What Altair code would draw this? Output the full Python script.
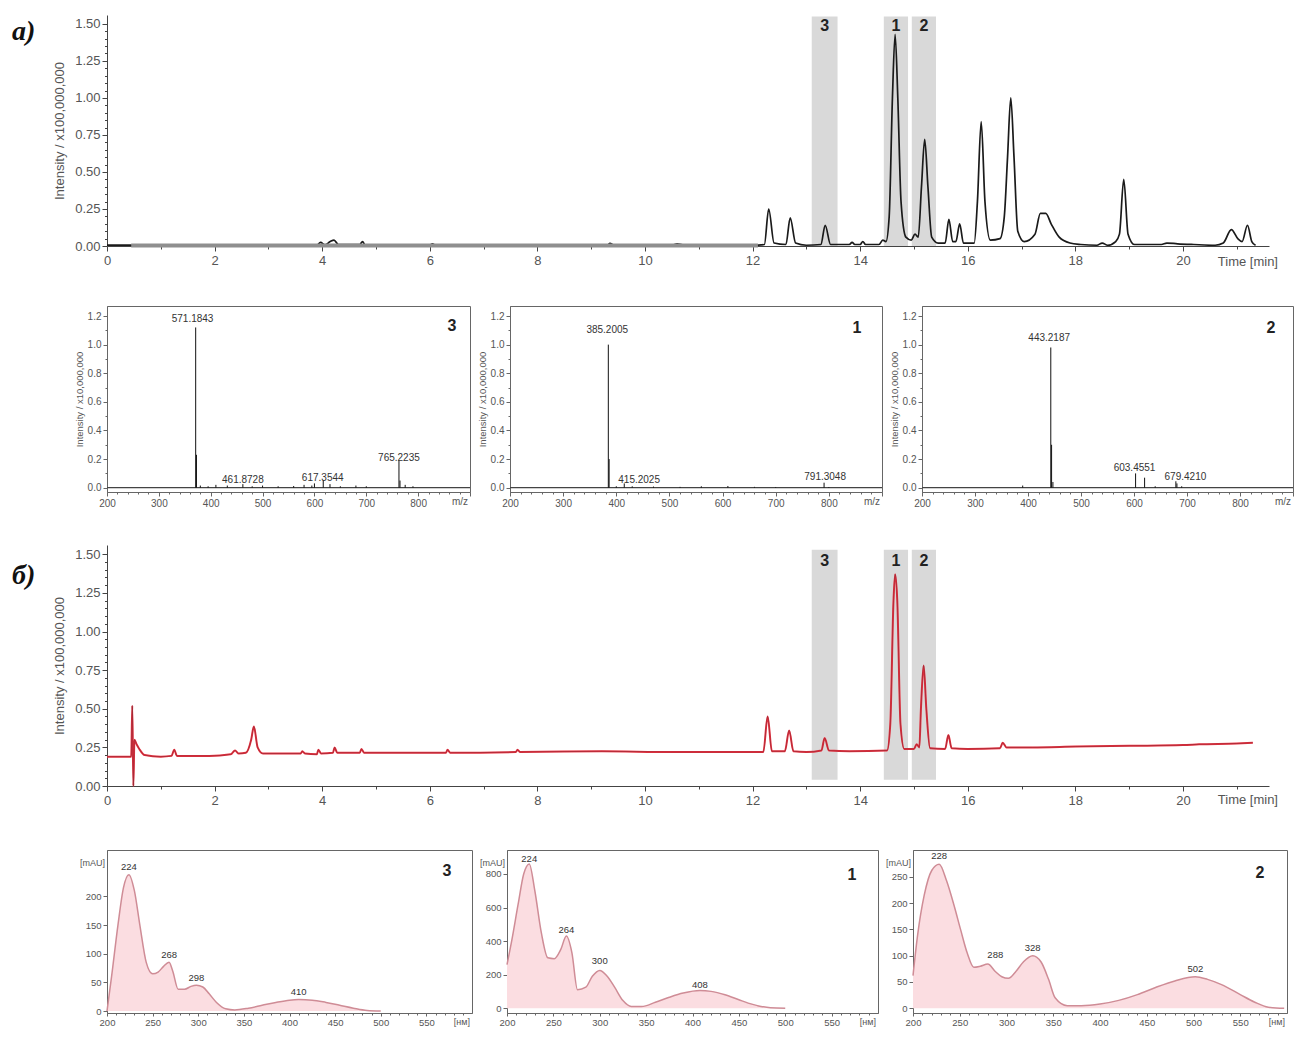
import altair as alt
import pandas as pd

FONT = "Liberation Sans"
SERIF = "Liberation Serif"
GRAY = "#555555"
AXIS = "#444444"

# ---------------- a) total ion chromatogram (black) ----------------
a_time = [0.00, 0.45, 0.50, 2.60, 3.90, 3.97, 4.05, 4.15, 4.22, 4.30,
          4.70, 4.75, 4.80, 6.00, 6.05, 6.10, 8.00, 9.30, 9.35, 9.42,
          10.50, 10.60, 10.70, 12.00, 12.22, 12.30, 12.40, 12.62, 12.70, 12.80,
          13.00, 13.27, 13.35, 13.45, 13.80, 13.85, 13.90, 14.00, 14.05, 14.10,
          14.35, 14.42, 14.48, 14.54, 14.60, 14.65, 14.70, 14.76, 14.85, 14.95,
          15.02, 15.08, 15.14, 15.20, 15.26, 15.33, 15.45, 15.58, 15.65, 15.72,
          15.78, 15.85, 15.92, 16.12, 16.18, 16.25, 16.32, 16.42, 16.60, 16.68,
          16.74, 16.80, 16.86, 16.93, 17.05, 17.25, 17.35, 17.45, 17.55, 17.70,
          17.90, 18.10, 18.40, 18.50, 18.60, 18.75, 18.82, 18.90, 18.98, 19.10,
          19.60, 19.70, 19.90, 20.20, 20.60, 20.75, 20.90, 21.02, 21.10, 21.20,
          21.28, 21.35]
a_int = [0.006, 0.006, 0.000, 0.002, 0.005, 0.025, 0.008, 0.030, 0.040, 0.010,
         0.010, 0.030, 0.005, 0.005, 0.015, 0.005, 0.004, 0.005, 0.018, 0.005,
         0.005, 0.015, 0.008, 0.005, 0.010, 0.250, 0.020, 0.010, 0.190, 0.020,
         0.005, 0.010, 0.140, 0.010, 0.010, 0.025, 0.010, 0.010, 0.030, 0.010,
         0.010, 0.040, 0.030, 0.200, 1.000, 1.430, 1.000, 0.300, 0.060, 0.040,
         0.080, 0.060, 0.400, 0.720, 0.400, 0.060, 0.020, 0.020, 0.180, 0.030,
         0.030, 0.150, 0.020, 0.020, 0.300, 0.840, 0.300, 0.040, 0.050, 0.200,
         0.600, 1.000, 0.600, 0.100, 0.030, 0.080, 0.220, 0.220, 0.150, 0.060,
         0.020, 0.010, 0.005, 0.020, 0.005, 0.030, 0.080, 0.450, 0.080, 0.010,
         0.010, 0.020, 0.015, 0.010, 0.005, 0.020, 0.110, 0.050, 0.030, 0.140,
         0.030, 0.005]
a_base_start = [0.45]
a_base_end = [12.10]
a_base_level = [0.003]

# ---------------- б) chromatogram (red) ----------------
b_time = [0.00, 0.45, 0.47, 0.49, 0.51, 0.55, 0.60, 0.70, 1.00, 1.20,
          1.25, 1.30, 1.90, 2.30, 2.38, 2.45, 2.58, 2.68, 2.73, 2.80,
          2.90, 3.60, 3.63, 3.68, 3.90, 3.93, 3.98, 4.20, 4.23, 4.28,
          4.70, 4.73, 4.78, 6.30, 6.33, 6.38, 7.60, 7.63, 7.68, 9.20,
          10.50, 12.20, 12.28, 12.36, 12.60, 12.68, 12.76, 13.00, 13.28, 13.34,
          13.42, 13.80, 14.50, 14.56, 14.62, 14.65, 14.69, 14.75, 14.82, 15.00,
          15.05, 15.10, 15.13, 15.18, 15.23, 15.30, 15.58, 15.64, 15.70, 16.00,
          16.60, 16.65, 16.72, 17.20, 18.00, 19.00, 20.00, 20.30, 21.00, 21.30]
b_int = [0.190, 0.190, 0.520, 0.000, 0.300, 0.270, 0.240, 0.200, 0.190, 0.195,
         0.235, 0.195, 0.195, 0.205, 0.230, 0.210, 0.215, 0.300, 0.385, 0.250,
         0.210, 0.210, 0.225, 0.210, 0.205, 0.235, 0.210, 0.215, 0.250, 0.215,
         0.215, 0.240, 0.215, 0.215, 0.235, 0.215, 0.220, 0.235, 0.220, 0.225,
         0.220, 0.220, 0.450, 0.225, 0.225, 0.360, 0.225, 0.220, 0.230, 0.310,
         0.230, 0.225, 0.230, 0.400, 1.200, 1.370, 1.200, 0.400, 0.240, 0.240,
         0.270, 0.250, 0.500, 0.780, 0.500, 0.245, 0.240, 0.330, 0.245, 0.240,
         0.245, 0.280, 0.250, 0.250, 0.255, 0.260, 0.265, 0.270, 0.275, 0.280]

# shaded retention windows
band_label = ["3", "1", "2"]
band_start = [13.10, 14.44, 14.96]
band_end = [13.58, 14.89, 15.41]

# ---------------- mass spectra ----------------
ms3_mz = [371, 372.5, 380, 395, 410, 432, 462, 480, 500, 530,
          560, 580, 595, 600, 617, 630, 650, 680, 700, 763,
          765, 775, 790]
ms3_int = [1.12, 0.23, 0.015, 0.01, 0.02, 0.015, 0.025, 0.01, 0.015, 0.01,
           0.012, 0.02, 0.015, 0.03, 0.05, 0.025, 0.01, 0.015, 0.01, 0.19,
           0.05, 0.02, 0.01]
ms3_lab = ["571.1843", "461.8728", "617.3544", "765.2235"]
ms3_lab_x = [365, 462, 616, 763]
ms3_lab_y = [1.18, 0.056, 0.07, 0.21]

ms1_mz = [385, 386.5, 400, 415, 430, 470, 520, 560, 610, 660, 700, 791, 800]
ms1_int = [1.0, 0.2, 0.01, 0.03, 0.01, 0.008, 0.006, 0.01, 0.012, 0.006, 0.005, 0.035, 0.005]
ms1_lab = ["385.2005", "415.2025", "791.3048"]
ms1_lab_x = [383, 443, 793]
ms1_lab_y = [1.10, 0.055, 0.076]

ms2_mz = [390, 443, 444.5, 447, 603, 620, 640, 679, 681, 690]
ms2_int = [0.015, 0.98, 0.3, 0.04, 0.1, 0.07, 0.01, 0.045, 0.03, 0.01]
ms2_lab = ["443.2187", "603.4551", "679.4210"]
ms2_lab_x = [440, 601, 697]
ms2_lab_y = [1.045, 0.14, 0.077]

ms_base = [200, 900]

# ---------------- UV spectra ----------------
uv3_nm = [200, 205, 212, 218, 224, 230, 236, 243, 250, 256,
          262, 268, 272, 278, 285, 292, 298, 305, 312, 320,
          330, 340, 355, 370, 385, 400, 410, 425, 440, 455,
          470, 485, 500]
uv3_abs = [0, 60, 150, 215, 238, 210, 150, 85, 65, 68,
           78, 85, 70, 38, 38, 43, 45, 42, 30, 15,
           4, 2, 5, 10, 15, 19, 20, 19, 15, 10,
           5, 1, 0]
uv3_lab = ["224", "268", "298", "410"]
uv3_lab_x = [224, 268, 298, 410]
uv3_lab_y = [252, 98, 58, 34]

uv1_nm = [200, 205, 212, 218, 224, 230, 237, 244, 251, 258,
          264, 270, 276, 285, 292, 300, 308, 316, 325, 334,
          345, 360, 375, 390, 408, 420, 435, 450, 460, 470,
          484, 500]
uv1_abs = [260, 400, 620, 800, 860, 700, 450, 300, 295, 350,
           430, 330, 110, 125, 190, 225, 190, 125, 45, 10,
           10, 35, 65, 90, 105, 100, 80, 50, 30, 15,
           2, 0]
uv1_lab = ["224", "264", "300", "408"]
uv1_lab_x = [224, 264, 300, 408]
uv1_lab_y = [890, 465, 282, 138]

uv2_nm = [200, 205, 212, 220, 228, 236, 244, 251, 258, 265,
          272, 280, 288, 295, 302, 310, 318, 328, 337, 345,
          352, 365, 380, 400, 420, 440, 460, 480, 502, 515,
          530, 550, 565, 580, 597]
uv2_abs = [62, 140, 215, 262, 274, 242, 195, 149, 105, 78,
           80, 84, 70, 60, 57, 70, 88, 100, 88, 55,
           20, 5, 5, 8, 15, 26, 40, 52, 60, 55,
           45, 26, 12, 2, 0]
uv2_lab = ["228", "288", "328", "502"]
uv2_lab_x = [228, 288, 328, 502]
uv2_lab_y = [289, 101, 114, 74]

for p, q in [(a_time, a_int), (b_time, b_int), (ms3_mz, ms3_int), (ms1_mz, ms1_int),
             (ms2_mz, ms2_int), (uv3_nm, uv3_abs), (uv1_nm, uv1_abs), (uv2_nm, uv2_abs)]:
    assert len(p) == len(q), (len(p), len(q))

# tick positions
TIME_TICKS = list(range(0, 22))
INT_TICKS = [round(0.05 * i, 2) for i in range(31)]
MZ_TICKS = list(range(200, 901, 20))
MS_INT_TICKS = [round(0.1 * i, 1) for i in range(13)]
NM_TICKS = list(range(200, 600, 10))

ONE = pd.DataFrame({"k": [0]})
LEFT = 98


def tick_cond(test, big, small):
    return {"condition": {"test": test, "value": big}, "value": small}


def guide(left, top, h, bottom):
    # white hairline in the page margin that fixes the row's outer extent
    return alt.Chart(ONE).mark_rule(color="white", strokeWidth=1).encode(
        x=alt.value(-left), y=alt.value(-top), y2=alt.value(h + bottom))


def label_text(txt, x, y, size, **kw):
    return alt.Chart(pd.DataFrame({"s": [txt]})).mark_text(fontSize=size, **kw).encode(
        text="s:N", x=alt.value(x), y=alt.value(y))


CW = 1162


def chromatogram(times, vals, H, letter, letter_y, band_lo, band_hi, band_ty,
                 red, top, bottom, time_y):
    xs = alt.Scale(domain=[0, 21.6], nice=False, zero=False)
    ys = alt.Scale(domain=[0, 1.56], nice=False, zero=False)
    quarter = "abs(datum.value*4 - round(datum.value*4)) < 0.001"
    xax = alt.Axis(values=TIME_TICKS, labelExpr="datum.value % 2 == 0 ? datum.label : ''",
                   tickSize=tick_cond("datum.value % 2 == 0", 5, 3), grid=False, title=None,
                   labelFontSize=13, labelColor=GRAY, labelPadding=3, labelOverlap=False,
                   labelFlush=False, domainColor=AXIS, tickColor=AXIS)
    yax = alt.Axis(values=INT_TICKS,
                   labelExpr=quarter + " ? format(datum.value, '.2f') : ''",
                   tickSize=tick_cond(quarter, 5, 2.5), grid=False,
                   title="Intensity / x100,000,000", titleFontSize=13, titleFontWeight="normal",
                   titleColor=GRAY, titlePadding=8, labelFontSize=13, labelColor=GRAY,
                   labelOverlap=False, labelPadding=2, domainColor=AXIS, tickColor=AXIS)

    def X(f):
        return alt.X(f, type="quantitative", scale=xs, axis=xax)

    def Y(f):
        return alt.Y(f, type="quantitative", scale=ys, axis=yax)

    bands = pd.DataFrame({"lab": band_label, "t0": band_start, "t1": band_end,
                          "lo": [band_lo] * 3, "hi": [band_hi] * 3, "ty": [band_ty] * 3})
    trace = pd.DataFrame({"t": times, "v": vals})
    layers = [alt.Chart(bands).mark_rect(color="#d9d9d9").encode(
        x=X("t0"), x2="t1", y=Y("lo"), y2="hi")]
    if not red:
        layers.append(alt.Chart(trace).mark_line(color="#1a1a1a", strokeWidth=1.7,
                                                 interpolate="monotone").encode(
            x=X("t"), y=Y("v")))
        base = pd.DataFrame({"s": a_base_start, "e": a_base_end, "v": a_base_level})
        layers.append(alt.Chart(base).mark_rule(color="#8f8f8f", strokeWidth=4).encode(
            x=X("s"), x2="e", y=Y("v")))
    else:
        layers.append(alt.Chart(trace).mark_line(color="#e8313f", strokeWidth=2,
                                                 interpolate="monotone").encode(
            x=X("t"), y=Y("v")))
        layers.append(alt.Chart(trace).mark_line(color="#6b2530", strokeWidth=0.6, opacity=0.7,
                                                 interpolate="monotone").encode(
            x=X("t"), y=Y("v")))
    layers.append(alt.Chart(bands).transform_calculate(tm="(datum.t0 + datum.t1) / 2").mark_text(
        font=FONT, fontSize=16, fontWeight="bold", color="#222").encode(
        x=X("tm"), y=Y("ty"), text="lab:N"))
    layers.append(label_text(letter, -95, letter_y, 28, font=SERIF, fontWeight="bold",
                             fontStyle="italic", align="left", baseline="middle", color="#111"))
    layers.append(label_text("Time [min]", CW + 9, H + time_y, 13, font=FONT, align="right",
                             baseline="middle", color=GRAY))
    layers.append(guide(LEFT, top, H, bottom))
    return alt.layer(*layers).properties(width=CW, height=H)


MS_H = 186


def ms_panel(mz, inten, lt, lx, ly, number, W, nx, ny, g=None):
    xs = alt.Scale(domain=[200, 900], nice=False, zero=False)
    ys = alt.Scale(domain=[-0.03, 1.27], nice=False, zero=False)
    fifth = "abs(datum.value*5 - round(datum.value*5)) < 0.001"
    xax = alt.Axis(values=MZ_TICKS,
                   labelExpr="datum.value % 100 == 0 && datum.value <= 800 ? datum.label : ''",
                   tickSize=tick_cond("datum.value % 100 == 0", 4, 2), grid=False, title=None,
                   labelFontSize=10, labelColor=GRAY, labelPadding=2, labelOverlap=False,
                   labelFlush=False, domainColor="#666", tickColor="#666")
    yax = alt.Axis(values=MS_INT_TICKS, labelExpr=fifth + " ? format(datum.value, '.1f') : ''",
                   tickSize=tick_cond(fifth, 4, 2), grid=False, title="Intensity / x10,000,000",
                   titleFontSize=9.5, titleFontWeight="normal", titleColor=GRAY, titlePadding=3,
                   labelFontSize=10, labelColor=GRAY, labelPadding=2, labelOverlap=False,
                   domainColor="#666", tickColor="#666")

    def X(f):
        return alt.X(f, type="quantitative", scale=xs, axis=xax)

    def Y(f):
        return alt.Y(f, type="quantitative", scale=ys, axis=yax)

    stems = pd.DataFrame({"mz": mz, "v": inten})
    base = pd.DataFrame({"s": [ms_base[0]], "e": [ms_base[1]], "v": [0.0]})
    labs = pd.DataFrame({"lt": lt, "lx": lx, "ly": ly})
    layers = [
        alt.Chart(base).mark_rule(color="#444", strokeWidth=1.3).encode(x=X("s"), x2="e", y=Y("v")),
        alt.Chart(stems).mark_rule(color="#111", strokeWidth=1).encode(x=X("mz"), y=Y("v"), y2=alt.datum(0)),
        alt.Chart(labs).mark_text(font=FONT, fontSize=10, color="#333", baseline="middle").encode(
            x=X("lx"), y=Y("ly"), text="lt:N"),
        label_text(number, nx, ny, 16, font=FONT, fontWeight="bold", color="#222", baseline="middle"),
        label_text("m/z", W - 2, MS_H + 10, 10, font=FONT, align="right", baseline="middle", color=GRAY),
    ]
    if g is not None:
        layers.append(g)
    return alt.layer(*layers).properties(width=W, height=MS_H,
                                         view=alt.ViewBackground(stroke="#666", strokeWidth=1))


UV_H = 163


def uv_panel(nm, ab, lt, lx, ly, number, W, nx, ny, ydom, yvals, g=None):
    xs = alt.Scale(domain=[200, 600], nice=False, zero=False)
    ys = alt.Scale(domain=ydom, nice=False, zero=False)
    xax = alt.Axis(values=NM_TICKS,
                   labelExpr="datum.value % 50 == 0 && datum.value <= 550 ? datum.label : ''",
                   tickSize=tick_cond("datum.value % 50 == 0", 3, 2), grid=False, title=None,
                   labelFontSize=9.5, labelColor=GRAY, labelPadding=1, labelOverlap=False,
                   labelFlush=False, domainColor="#666", tickColor="#666")
    yax = alt.Axis(values=yvals, grid=False, title=None, tickSize=4, labelFontSize=9.5,
                   labelColor=GRAY, labelPadding=2, labelOverlap=False,
                   domainColor="#666", tickColor="#666")

    def X(f):
        return alt.X(f, type="quantitative", scale=xs, axis=xax)

    def Y(f):
        return alt.Y(f, type="quantitative", scale=ys, axis=yax)

    spec = pd.DataFrame({"nm": nm, "a": ab})
    labs = pd.DataFrame({"lt": lt, "lx": lx, "ly": ly})
    layers = [
        alt.Chart(spec).mark_area(color="#fbdde1", opacity=1, interpolate="monotone",
                                  line={"color": "#cf8c96", "strokeWidth": 1.5}).encode(
            x=X("nm"), y=Y("a"), y2=alt.datum(0)),
        alt.Chart(labs).mark_text(font=FONT, fontSize=9.5, color="#333", baseline="middle").encode(
            x=X("lx"), y=Y("ly"), text="lt:N"),
        label_text(number, nx, ny, 16, font=FONT, fontWeight="bold", color="#222", baseline="middle"),
        label_text("[mAU]", -2, 13, 9, font=FONT, align="right", baseline="middle", color=GRAY),
        label_text("[нм]", W - 2, UV_H + 9, 9, font=FONT, align="right", baseline="middle", color=GRAY),
    ]
    if g is not None:
        layers.append(g)
    return alt.layer(*layers).properties(width=W, height=UV_H,
                                         view=alt.ViewBackground(stroke="#666", strokeWidth=1))


row_a = chromatogram(a_time, a_int, 231, "a)", 17, 0.0, 1.55, 1.485, False, 6, 30, 16)

ms3 = ms_panel(ms3_mz, ms3_int, ms3_lab, ms3_lab_x, ms3_lab_y, "3", 363, 345, 20,
               g=guide(LEFT, 28, MS_H, 25))
ms1 = ms_panel(ms1_mz, ms1_int, ms1_lab, ms1_lab_x, ms1_lab_y, "1", 372, 347, 22)
ms2 = ms_panel(ms2_mz, ms2_int, ms2_lab, ms2_lab_x, ms2_lab_y, "2", 371, 349, 22)
row_ms = alt.hconcat(ms3, ms1, ms2, spacing=40, bounds="flush")

row_b = chromatogram(b_time, b_int, 241, "б)", 31, 0.04, 1.53, 1.455, True, 26, 33, 14)

uv3 = uv_panel(uv3_nm, uv3_abs, uv3_lab, uv3_lab_x, uv3_lab_y, "3", 365, 340, 21,
               [-3.4, 281], [0, 50, 100, 150, 200], g=guide(LEFT, 29, UV_H, 10))
uv1 = uv_panel(uv1_nm, uv1_abs, uv1_lab, uv1_lab_x, uv1_lab_y, "1", 371, 345, 25,
               [-29, 943], [0, 200, 400, 600, 800])
uv2 = uv_panel(uv2_nm, uv2_abs, uv2_lab, uv2_lab_x, uv2_lab_y, "2", 374, 347, 23,
               [-9, 301], [0, 50, 100, 150, 200, 250])
row_uv = alt.hconcat(uv3, uv1, uv2, spacing=35, bounds="flush")

chart = alt.vconcat(row_a, row_ms, row_b, row_uv, spacing=0, bounds="full").properties(
    padding={"left": 0, "top": 0, "right": 0, "bottom": 0}
).configure(font=FONT).configure_view(stroke="transparent").configure_axis(
    labelFont=FONT, titleFont=FONT)

chart.save("out.html", embed_options={"renderer": "svg", "actions": False})
